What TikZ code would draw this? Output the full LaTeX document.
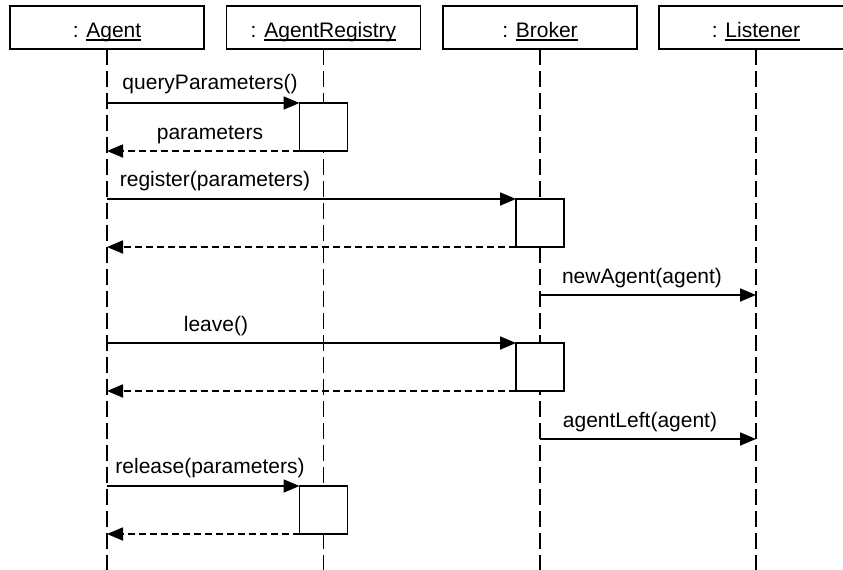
\documentclass[tikz,border=0pt]{standalone}
\usepackage{fontspec}
\setmainfont{Liberation Sans}
\usetikzlibrary{arrows.meta}
% underline that sits just below the baseline, crossed by descenders
\newcommand\objname[1]{\setbox0\hbox{#1}\rlap{\rule[-4pt]{\wd0}{1.8pt}}\box0}
\begin{document}
\begin{tikzpicture}[x=1pt,y=-1pt,
  font=\fontsize{21}{25}\selectfont,
  object/.style={draw, fill=white, line width=1.8pt, minimum width=194pt,
    minimum height=43pt, inner sep=0pt, outer sep=0pt, text height=21pt, text depth=2pt},
  lifeline/.style={line width=1.8pt, dash pattern=on 16pt off 6pt},
  activation/.style={draw, fill=white, line width=1.8pt, minimum size=48pt,
    inner sep=0pt, outer sep=0pt},
  call/.style={line width=1.8pt, -{Triangle[length=16pt,width=13pt]}},
  reply/.style={line width=1.8pt, dash pattern=on 7pt off 4pt,
    -{Triangle[length=16pt,width=13pt]}},
  msg/.style={anchor=base, inner sep=0pt}]
\useasboundingbox (0,0) rectangle (843,570);
\clip (0,0) rectangle (843,570);

% lifeline ends
\coordinate (agentEnd) at (107,570);
\coordinate (registryEnd) at (323.5,570);
\coordinate (brokerEnd) at (540,570);
\coordinate (listenerEnd) at (756,570);

% objects
\node[object] (agent) at (107,27.5) {: \objname{Agent}};
\node[object] (registry) at (323.5,27.5) {: \objname{AgentRegistry}};
\node[object] (broker) at (540,27.5) {: \objname{Broker}};
\node[object] (listener) at (756,27.5) {: \objname{Listener}};

% lifelines
\draw[lifeline] (agent.south) -- (agentEnd);
\draw[lifeline] (registry.south) -- (registryEnd);
\draw[lifeline] (broker.south) -- (brokerEnd);
\draw[lifeline] (listener.south) -- (listenerEnd);

% activations
\node[activation] (query) at (323.5,127) {};
\node[activation] (reg) at (540,223) {};
\node[activation] (leave) at (540,367) {};
\node[activation] (release) at (323.5,510) {};

% levels of the broker notifications
\coordinate (newLevel) at (0,295);
\coordinate (leftLevel) at (0,439);

% messages
\draw[call] (query.north west -| agent.south) -- (query.north west);
\draw[reply] (query.south west) -- (query.south west -| agent.south);
\draw[call] (reg.north west -| agent.south) -- (reg.north west);
\draw[reply] (reg.south west) -- (reg.south west -| agent.south);
\draw[call] (broker.south |- newLevel) -- (listener.south |- newLevel);
\draw[call] (leave.north west -| agent.south) -- (leave.north west);
\draw[reply] (leave.south west) -- (leave.south west -| agent.south);
\draw[call] (broker.south |- leftLevel) -- (listener.south |- leftLevel);
\draw[call] (release.north west -| agent.south) -- (release.north west);
\draw[reply] (release.south west) -- (release.south west -| agent.south);

% message labels
\node[msg] (lquery) at (210,89) {queryParameters()};
\node[msg] (lparams) at (210,139) {parameters};
\node[msg] (lreg) at (215,186) {register(parameters)};
\node[msg] (lnew) at (642,283) {newAgent(agent)};
\node[msg] (lleave) at (216,331) {leave()};
\node[msg] (lleft) at (640,427) {agentLeft(agent)};
\node[msg] (lrelease) at (210,473) {release(parameters)};
\end{tikzpicture}
\end{document}
